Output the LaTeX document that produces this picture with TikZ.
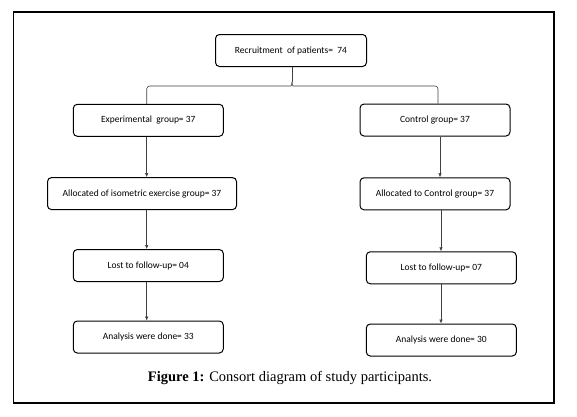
\documentclass[tikz,border=0pt]{standalone}
\usepackage{fontspec}
\setmainfont{Liberation Serif}
\newfontfamily\boxfont{Carlito}
\usepackage{tikz}
\usetikzlibrary{arrows.meta, positioning}

\tikzset{
  flowbox/.style={draw, line width=1pt, rounded corners=4pt, minimum width=150pt,
    minimum height=32pt, inner sep=2pt, font=\boxfont\fontsize{9.5}{11}\selectfont},
  link/.style={draw=black!75, line width=0.6pt},
  >={Latex[length=4pt,width=3.6pt]}
}

\begin{document}
\begin{tikzpicture}[x=1pt,y=-1pt]
			\useasboundingbox (0,0) rectangle (577,416);
			\draw[line width=1.1pt] (13.5,12) rectangle (554,403);
			% top of the tree
			\node[flowbox, minimum width=151pt] (recruit) at (291,50.5) {Recruitment~ of patients= ~74};
			\node[flowbox] (expgrp) at (148.3,120.3) {Experimental~ group= 37};
			\node[flowbox] (ctrlgrp) at (435,120) {Control group= 37};
			% allocation
			\node[flowbox, minimum width=189pt] (allocexp) at (142,193.6) {Allocated of isometric exercise group= 37};
			\node[flowbox] (allocctrl) at (435,193.8) {Allocated to Control group= 37};
			% follow-up and analysis
			\node[flowbox] (lostexp) at (148.3,265.5) {Lost to follow-up= 04};
			\node[flowbox] (lostctrl) at (441.3,267.8) {Lost to follow-up= 07};
			\node[flowbox] (doneexp) at (148.3,337) {Analysis were done= 33};
			\node[flowbox] (donectrl) at (441.3,340) {Analysis were done= 30};
			% x of each arm
			\coordinate (armL) at (146.7,0);
			\coordinate (armR) at (440,0);
			\coordinate (armRR) at (441,0);
			% bracket from recruitment
			\coordinate (split) at (292,82);
			\draw[link] (recruit.south -| split) -- (split);
			\draw[link, rounded corners=3pt] (split) .. controls (292,85) and (291,86) .. (288,86) -| (expgrp.north -| armL);
			\draw[link, rounded corners=3pt] (split) .. controls (292,85) and (293,86) .. (296,86) -| ([xshift=-2pt]ctrlgrp.north -| armR);
			% arrows down each arm
			\draw[link,->] (expgrp.south -| armL) -- (allocexp.north -| armL);
			\draw[link,->] (allocexp.south -| armL) -- (lostexp.north -| armL);
			\draw[link,->] (lostexp.south -| armL) -- (doneexp.north -| armL);
			\draw[link,->] (ctrlgrp.south -| armR) -- (allocctrl.north -| armR);
			\draw[link,->] (allocctrl.south -| armRR) -- (lostctrl.north -| armRR);
			\draw[link,->] (lostctrl.south -| armRR) -- (donectrl.north -| armRR);
			% caption
			\node (caption) at (290,378) {\fontsize{14.5}{17}\selectfont\textbf{Figure 1:} Consort diagram of study participants.};
		\end{tikzpicture}
\end{document}
